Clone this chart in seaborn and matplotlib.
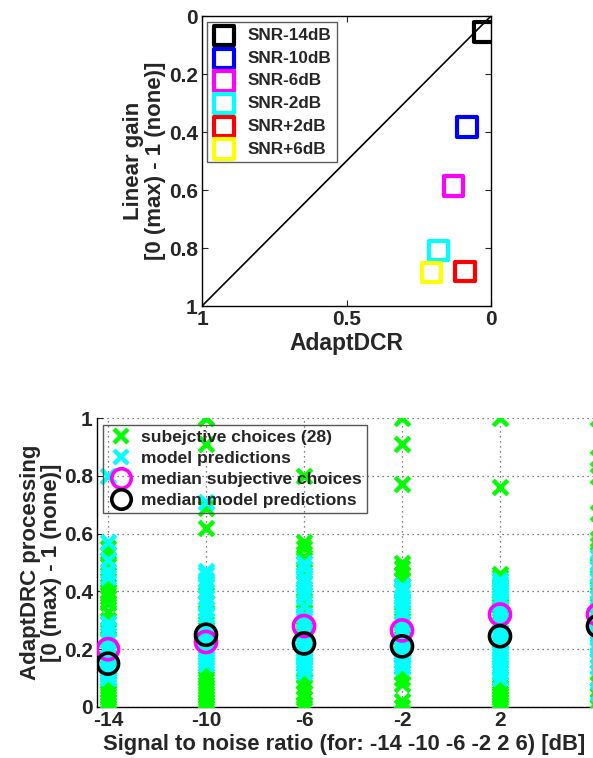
import numpy as np
import pandas as pd
import matplotlib
matplotlib.use("Agg")
import matplotlib.pyplot as plt
from matplotlib.lines import Line2D
import seaborn as sns

# top panel: AdaptDCR vs linear gain per SNR
snr_names = ["SNR-14dB", "SNR-10dB", "SNR-6dB", "SNR-2dB", "SNR+2dB", "SNR+6dB"]
snr_colors = ["#000000", "#0000ff", "#ff00ff", "#00ffff", "#ff0000", "#ffff00"]
adapt_dcr = [0.025, 0.083, 0.131, 0.183, 0.090, 0.207]
linear_gain = [0.055, 0.383, 0.586, 0.810, 0.880, 0.885]

# bottom panel: 28 subjective choices and model predictions per SNR
snr_levels = [-14, -10, -6, -2, 2, 6]
subjective = [
    [0.0, 0.0, 0.02, 0.03, 0.05, 0.06, 0.08, 0.09, 0.1, 0.11, 0.13, 0.15, 0.17, 0.19,
     0.21, 0.24, 0.27, 0.3, 0.33, 0.36, 0.38, 0.39, 0.4, 0.42, 0.44, 0.5, 0.53, 0.55],
    [0.0, 0.0, 0.01, 0.02, 0.03, 0.05, 0.06, 0.07, 0.08, 0.1, 0.11, 0.13, 0.15, 0.22,
     0.23, 0.25, 0.27, 0.3, 0.32, 0.33, 0.36, 0.4, 0.43, 0.62, 0.69, 0.91, 1.0, 1.0],
    [0.0, 0.01, 0.03, 0.05, 0.07, 0.09, 0.11, 0.13, 0.15, 0.18, 0.21, 0.24, 0.26, 0.27,
     0.29, 0.31, 0.33, 0.35, 0.37, 0.4, 0.43, 0.45, 0.47, 0.5, 0.52, 0.55, 0.57, 0.8],
    [0.0, 0.02, 0.08, 0.1, 0.12, 0.14, 0.16, 0.18, 0.2, 0.22, 0.24, 0.25, 0.26, 0.26,
     0.27, 0.3, 0.33, 0.36, 0.38, 0.4, 0.42, 0.44, 0.46, 0.48, 0.5, 0.77, 0.91, 1.0],
    [0.0, 0.0, 0.01, 0.02, 0.03, 0.04, 0.05, 0.06, 0.07, 0.08, 0.1, 0.12, 0.14, 0.31,
     0.33, 0.34, 0.35, 0.36, 0.37, 0.38, 0.39, 0.4, 0.42, 0.44, 0.45, 0.46, 0.76, 1.0],
    [0.0, 0.02, 0.04, 0.06, 0.08, 0.1, 0.12, 0.14, 0.16, 0.2, 0.24, 0.27, 0.3, 0.31,
     0.33, 0.36, 0.39, 0.42, 0.45, 0.48, 0.5, 0.53, 0.56, 0.58, 0.67, 0.8, 0.86, 1.0],
]
model = [
    [0.1, 0.11, 0.12, 0.12, 0.13, 0.13, 0.14, 0.14, 0.14, 0.15, 0.15, 0.15, 0.15, 0.15,
     0.15, 0.16, 0.17, 0.19, 0.21, 0.23, 0.25, 0.27, 0.29, 0.45, 0.47, 0.51, 0.57, 0.8],
    [0.15, 0.16, 0.17, 0.18, 0.19, 0.2, 0.21, 0.22, 0.22, 0.23, 0.24, 0.24, 0.25, 0.25,
     0.25, 0.26, 0.28, 0.3, 0.32, 0.34, 0.36, 0.38, 0.4, 0.42, 0.44, 0.46, 0.47, 0.71],
    [0.12, 0.14, 0.15, 0.16, 0.17, 0.18, 0.19, 0.2, 0.2, 0.21, 0.21, 0.22, 0.22, 0.22,
     0.22, 0.23, 0.24, 0.26, 0.28, 0.3, 0.32, 0.35, 0.38, 0.4, 0.43, 0.45, 0.48, 0.5],
    [0.14, 0.15, 0.16, 0.17, 0.18, 0.18, 0.19, 0.19, 0.2, 0.2, 0.2, 0.21, 0.21, 0.21,
     0.21, 0.22, 0.23, 0.25, 0.27, 0.29, 0.31, 0.33, 0.35, 0.37, 0.38, 0.4, 0.41, 0.42],
    [0.1, 0.12, 0.13, 0.15, 0.16, 0.17, 0.18, 0.19, 0.2, 0.21, 0.22, 0.23, 0.23, 0.24,
     0.24, 0.25, 0.26, 0.28, 0.3, 0.32, 0.34, 0.36, 0.38, 0.4, 0.41, 0.42, 0.43, 0.44],
    [0.05, 0.1, 0.14, 0.16, 0.18, 0.2, 0.21, 0.22, 0.24, 0.25, 0.26, 0.27, 0.27, 0.28,
     0.28, 0.29, 0.3, 0.32, 0.34, 0.36, 0.38, 0.4, 0.42, 0.44, 0.46, 0.48, 0.5, 0.52],
]
median_subjective = [0.20, 0.225, 0.28, 0.265, 0.32, 0.32]
median_model = [0.15, 0.25, 0.22, 0.21, 0.245, 0.28]

sns.set_style("ticks")
plt.rcParams["font.family"] = ["Liberation Sans", "DejaVu Sans"]
plt.rcParams["font.weight"] = "bold"
plt.rcParams["axes.labelweight"] = "bold"

fig = plt.figure(figsize=(5.93, 7.58), dpi=100)

# ---- top panel
ax1 = fig.add_axes([202 / 593, 1 - 306 / 758, 289 / 593, 290 / 758])
sns.lineplot(x=[0, 1], y=[0, 1], color="black", lw=1.2, ax=ax1)
for name, col, xv, yv in zip(snr_names, snr_colors, adapt_dcr, linear_gain):
    sns.scatterplot(x=[xv], y=[yv], marker="s", s=190, color=col, facecolor="none",
                    edgecolor=col, linewidth=3, label=name, ax=ax1, zorder=3)
ax1.set_xlim(1, 0)
ax1.set_ylim(1, 0)
ax1.set_xticks([1, 0.5, 0])
ax1.set_xticklabels(["1", "0.5", "0"])
ax1.set_yticks([0, 0.2, 0.4, 0.6, 0.8, 1])
ax1.set_yticklabels(["0", "0.2", "0.4", "0.6", "0.8", "1"])
ax1.tick_params(direction="in", length=4, labelsize=15, top=True, right=True, pad=3)
for s in ax1.spines.values():
    s.set_color("black")
    s.set_linewidth(1)
ax1.set_xlabel("AdaptDCR", fontsize=16.5, labelpad=2)
ax1.set_ylabel("Linear gain\n[0 (max) - 1 (none)]", fontsize=16, labelpad=2,
               linespacing=1.05)
leg1 = ax1.legend(loc="upper left", bbox_to_anchor=(0.017, 0.979), borderaxespad=0,
                  fontsize=12.3, frameon=True, fancybox=False, edgecolor="#333333",
                  handletextpad=0.7, labelspacing=0.45, borderpad=0.35, handlelength=1.3)
leg1.get_frame().set_linewidth(1)

# ---- bottom panel
rows_s = [(snr, v) for snr, vals in zip(snr_levels, subjective) for v in vals]
rows_m = [(snr, v) for snr, vals in zip(snr_levels, model) for v in vals]
df_s = pd.DataFrame(rows_s, columns=["snr", "value"])
df_m = pd.DataFrame(rows_m, columns=["snr", "value"])
df_med = pd.DataFrame({"snr": snr_levels, "subj": median_subjective, "model": median_model})

ax2 = fig.add_axes([97 / 593, 1 - 707 / 758, 512 / 593, 289 / 758])
ax2.grid(True, linestyle=(0, (1, 3)), color="#555555", linewidth=0.9)
ax2.set_axisbelow(True)
sns.scatterplot(data=df_s, x="snr", y="value", marker="x", s=110, color="#00ff00",
                linewidth=3.2, ax=ax2, zorder=3)
sns.scatterplot(data=df_m, x="snr", y="value", marker="x", s=110, color="#00ffff",
                linewidth=3.2, ax=ax2, zorder=4)
sns.scatterplot(data=df_med, x="snr", y="subj", marker="o", s=230, color="#ff00ff",
                facecolor="none", edgecolor="#ff00ff", linewidth=2.6, ax=ax2, zorder=5)
sns.scatterplot(data=df_med, x="snr", y="model", marker="o", s=230, color="black",
                facecolor="none", edgecolor="black", linewidth=2.6, ax=ax2, zorder=6)
ax2.set_xlim(-14.45, 6.45)
ax2.set_ylim(0, 1)
ax2.set_xticks(snr_levels)
ax2.set_xticklabels([str(v) for v in snr_levels])
ax2.set_yticks([0, 0.2, 0.4, 0.6, 0.8, 1])
ax2.set_yticklabels(["0", "0.2", "0.4", "0.6", "0.8", "1"])
ax2.tick_params(direction="in", length=4, labelsize=15, pad=3)
ax2.spines["top"].set_visible(False)
ax2.spines["right"].set_visible(False)
for s in ["left", "bottom"]:
    ax2.spines[s].set_color("black")
    ax2.spines[s].set_linewidth(1)
ax2.set_xlabel("Signal to noise ratio (for: -14 -10 -6 -2 2 6) [dB]", fontsize=15.8)
ax2.xaxis.set_label_coords(0.483, -0.095)
ax2.set_ylabel("AdaptDRC processing\n[0 (max) - 1 (none)]", fontsize=16, labelpad=1,
               linespacing=1.05)

handles = [
    Line2D([], [], ls="none", marker="x", color="#00ff00", ms=10, mew=3.2),
    Line2D([], [], ls="none", marker="x", color="#00ffff", ms=10, mew=3.2),
    Line2D([], [], ls="none", marker="o", mfc="none", mec="#ff00ff", ms=14, mew=2.6),
    Line2D([], [], ls="none", marker="o", mfc="none", mec="black", ms=14, mew=2.6),
]
labels = ["subejctive choices (28)", "model predictions",
          "median subjective choices", "median model predictions"]
leg2 = ax2.legend(handles, labels, loc="upper left", bbox_to_anchor=(0.012, 0.976),
                  borderaxespad=0, fontsize=12.5, frameon=True, fancybox=False,
                  handletextpad=0.5, labelspacing=0.33, borderpad=0.3, handlelength=1.4)
leg2.get_frame().set_alpha(None)
leg2.get_frame().set_facecolor("none")
leg2.get_frame().set_edgecolor("#555555")
leg2.get_frame().set_linewidth(1)

fig.savefig("out.png", dpi=100)
